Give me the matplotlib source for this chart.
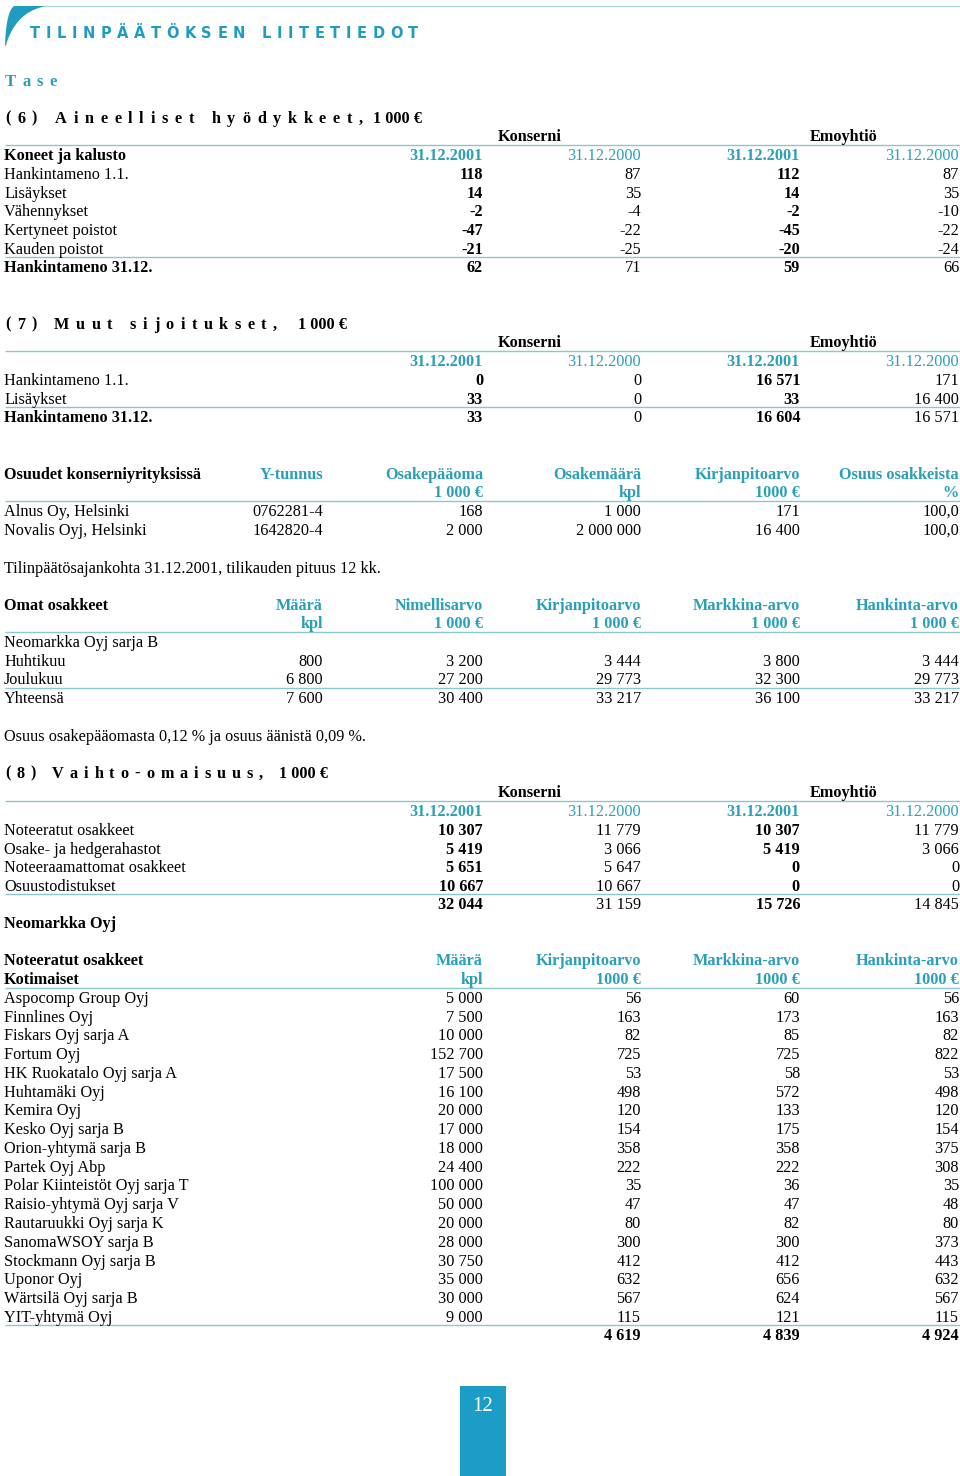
import matplotlib
matplotlib.use('Agg')
import matplotlib.pyplot as plt
from matplotlib.patches import Rectangle, Polygon
import numpy as np

# ---------------- data ----------------
sec6_rows = ["Hankintameno 1.1.", "Lisäykset", "Vähennykset", "Kertyneet poistot",
             "Kauden poistot", "Hankintameno 31.12."]
sec6_kons_2001 = [118, 14, -2, -47, -21, 62]
sec6_kons_2000 = [87, 35, -4, -22, -25, 71]
sec6_emo_2001 = [112, 14, -2, -45, -20, 59]
sec6_emo_2000 = [87, 35, -10, -22, -24, 66]

sec7_rows = ["Hankintameno 1.1.", "Lisäykset", "Hankintameno 31.12."]
sec7_kons_2001 = [0, 33, 33]
sec7_kons_2000 = [0, 0, 0]
sec7_emo_2001 = [16571, 33, 16604]
sec7_emo_2000 = [171, 16400, 16571]

sub_names = ["Alnus Oy, Helsinki", "Novalis Oyj, Helsinki"]
sub_ytunnus = ["0762281-4", "1642820-4"]
sub_capital = [168, 2000]
sub_shares = [1000, 2000000]
sub_book = [171, 16400]
sub_pct = [100.0, 100.0]

own_rows = ["Huhtikuu", "Joulukuu", "Yhteensä"]
own_qty = [800, 6800, 7600]
own_nominal = [3200, 27200, 30400]
own_book = [3444, 29773, 33217]
own_market = [3800, 32300, 36100]
own_cost = [3444, 29773, 33217]

sec8_rows = ["Noteeratut osakkeet", "Osake- ja hedgerahastot",
             "Noteeraamattomat osakkeet", "Osuustodistukset"]
sec8_kons_2001 = [10307, 5419, 5651, 10667]
sec8_kons_2000 = [11779, 3066, 5647, 10667]
sec8_emo_2001 = [10307, 5419, 0, 0]
sec8_emo_2000 = [11779, 3066, 0, 0]
sec8_totals = [32044, 31159, 15726, 14845]

stocks = ["Aspocomp Group Oyj", "Finnlines Oyj", "Fiskars Oyj sarja A", "Fortum Oyj",
          "HK Ruokatalo Oyj sarja A", "Huhtamäki Oyj", "Kemira Oyj", "Kesko Oyj sarja B",
          "Orion-yhtymä sarja B", "Partek Oyj Abp", "Polar Kiinteistöt Oyj sarja T",
          "Raisio-yhtymä Oyj sarja V", "Rautaruukki Oyj sarja K", "SanomaWSOY sarja B",
          "Stockmann Oyj sarja B", "Uponor Oyj", "Wärtsilä Oyj sarja B", "YIT-yhtymä Oyj"]
stock_qty = [5000, 7500, 10000, 152700, 17500, 16100, 20000, 17000, 18000, 24400,
             100000, 50000, 20000, 28000, 30750, 35000, 30000, 9000]
stock_book = [56, 163, 82, 725, 53, 498, 120, 154, 358, 222, 35, 47, 80, 300, 412, 632, 567, 115]
stock_market = [60, 173, 85, 725, 58, 572, 133, 175, 358, 222, 36, 47, 82, 300, 412, 656, 624, 121]
stock_cost = [56, 163, 82, 822, 53, 498, 120, 154, 375, 308, 35, 48, 80, 373, 443, 632, 567, 115]
stock_totals = [4619, 4839, 4924]

# ---------------- setup ----------------
W, H = 960, 1476
fig = plt.figure(figsize=(9.6, 14.76), dpi=100)
ax = fig.add_axes([0, 0, 1, 1])
ax.set_xlim(0, W)
ax.set_ylim(H, 0)
ax.axis('off')
renderer = fig.canvas.get_renderer()

TEAL = '#2a9fb8'
LINE = '#8cc6d1'
SERIF = ['Liberation Serif', 'DejaVu Serif']
FS = 11.7
C = [483, 641, 800, 959]
LX = 4
DY = 1.8


def fmt(v):
    return f"{v:,}".replace(",", " ")


def txt(x, y, s, ha='left', bold=False, color='black', size=FS, family=SERIF):
    ax.text(x, y + DY, s, ha=ha, va='center', fontsize=size, family=family,
            fontweight='bold' if bold else 'normal', color=color)


def hline(y, x0=5, x1=960):
    ax.plot([x0, x1], [y, y], color=LINE, lw=1.0, solid_capstyle='butt')


def char_w(ch, **kw):
    if ch == ' ':
        a = ax.text(0, 0, 'aa', **kw); b = ax.text(0, 0, 'a a', **kw)
        w = b.get_window_extent(renderer).width - a.get_window_extent(renderer).width
        a.remove(); b.remove()
        return w
    t = ax.text(0, 0, ch, **kw)
    w = t.get_window_extent(renderer).width
    t.remove()
    return w


def tracked(x0, x1, y, s, **kw):
    ws = [char_w(ch, **kw) for ch in s]
    gap = (x1 - x0 - sum(ws)) / (len(s) - 1)
    x = x0
    for ch, w in zip(s, ws):
        if ch != ' ':
            ax.text(x, y + DY, ch, ha='left', va='center', **kw)
        x += w + gap


# ---------------- decoration ----------------
def bez(p0, p1, p2, n=30):
    t = np.linspace(0, 1, n)[:, None]
    return (1 - t) ** 2 * np.array(p0) + 2 * (1 - t) * t * np.array(p1) + t ** 2 * np.array(p2)

inner = bez((47, 6), (16, 11), (6, 45))
outer = bez((5, 46), (6, 12), (14, 6))
pts = np.vstack([inner, outer, [[47, 6]]])
ax.add_patch(Polygon(pts, closed=True, color='#1f9cc0', lw=0))
ax.plot([44, 960], [6, 6], color='#a9d6df', lw=1.0)

tkw = dict(fontsize=10.5, family=['DejaVu Sans'], fontweight='bold', color='#1f9cc0')
tracked(30, 418, 32, "TILINPÄÄTÖKSEN LIITETIEDOT", **tkw)
tracked(5, 57, 80, "Tase", fontsize=12, family=SERIF, fontweight='bold', color=TEAL)

hkw = dict(fontsize=11.7, family=SERIF, fontweight='bold', color='black')

# ---------------- section 6 ----------------
tracked(5, 363, 117, "(6) Aineelliset hyödykkeet,", **hkw)
txt(373, 117, "1 000 €", bold=True)
txt(530, 135, "Konserni", ha='center', bold=True)
txt(844, 135, "Emoyhtiö", ha='center', bold=True)
hline(144.5)
txt(LX, 154, "Koneet ja kalusto", bold=True)
dates = [("31.12.2001", True), ("31.12.2000", False), ("31.12.2001", True), ("31.12.2000", False)]
for cx, (d, b) in zip(C, dates):
    txt(cx, 154, d, ha='right', bold=b, color=TEAL)
cols6 = [sec6_kons_2001, sec6_kons_2000, sec6_emo_2001, sec6_emo_2000]
for i, name in enumerate(sec6_rows):
    y = 173 + i * 18.7
    last = i == len(sec6_rows) - 1
    txt(LX, y, name, bold=last)
    for j, col in enumerate(cols6):
        txt(C[j], y, fmt(col[i]), ha='right', bold=(j % 2 == 0))
hline(257)

# ---------------- section 7 ----------------
tracked(5, 277, 323, "(7) Muut sijoitukset,", **hkw)
txt(298, 323, "1 000 €", bold=True)
txt(530, 341, "Konserni", ha='center', bold=True)
txt(844, 341, "Emoyhtiö", ha='center', bold=True)
hline(350.5)
for cx, (d, b) in zip(C, dates):
    txt(cx, 360, d, ha='right', bold=b, color=TEAL)
cols7 = [sec7_kons_2001, sec7_kons_2000, sec7_emo_2001, sec7_emo_2000]
for i, name in enumerate(sec7_rows):
    y = 379 + i * 18.7
    last = i == len(sec7_rows) - 1
    txt(LX, y, name, bold=last)
    for j, col in enumerate(cols7):
        txt(C[j], y, fmt(col[i]), ha='right', bold=(j % 2 == 0))
hline(407)

# ---------------- subsidiaries ----------------
txt(LX, 473, "Osuudet konserniyrityksissä", bold=True)
for cx, h1, h2 in zip([323] + C, ["Y-tunnus", "Osakepääoma", "Osakemäärä", "Kirjanpitoarvo", "Osuus osakkeista"],
                      ["", "1 000 €", "kpl", "1000 €", "%"]):
    txt(cx, 473, h1, ha='right', bold=True, color=TEAL)
    if h2:
        txt(cx, 491, h2, ha='right', bold=True, color=TEAL)
hline(500.5)
for i, name in enumerate(sub_names):
    y = 510 + i * 18.8
    txt(LX, y, name)
    txt(323, y, sub_ytunnus[i], ha='right')
    txt(C[0], y, fmt(sub_capital[i]), ha='right')
    txt(C[1], y, fmt(sub_shares[i]), ha='right')
    txt(C[2], y, fmt(sub_book[i]), ha='right')
    txt(C[3], y, f"{sub_pct[i]:.1f}".replace('.', ','), ha='right')

txt(LX, 567, "Tilinpäätösajankohta 31.12.2001, tilikauden pituus 12 kk.")

# ---------------- own shares ----------------
txt(LX, 604, "Omat osakkeet", bold=True)
for cx, h1 in zip([323] + C, ["Määrä", "Nimellisarvo", "Kirjanpitoarvo", "Markkina-arvo", "Hankinta-arvo"]):
    txt(cx, 604, h1, ha='right', bold=True, color=TEAL)
for cx, h2 in zip([323] + C, ["kpl", "1 000 €", "1 000 €", "1 000 €", "1 000 €"]):
    txt(cx, 622, h2, ha='right', bold=True, color=TEAL)
hline(631.5)
txt(LX, 641, "Neomarkka Oyj sarja B")
for i, name in enumerate(own_rows):
    y = 660 + i * 18.7
    txt(LX, y, name)
    for cx, col in zip([323] + C, [own_qty, own_nominal, own_book, own_market, own_cost]):
        txt(cx, y, fmt(col[i]), ha='right')
hline(688)

txt(LX, 735, "Osuus osakepääomasta 0,12 % ja osuus äänistä 0,09 %.")

# ---------------- section 8 ----------------
tracked(5, 263, 772, "(8) Vaihto-omaisuus,", **hkw)
txt(279, 772, "1 000 €", bold=True)
txt(530, 791, "Konserni", ha='center', bold=True)
txt(844, 791, "Emoyhtiö", ha='center', bold=True)
hline(800.5)
for cx, (d, b) in zip(C, dates):
    txt(cx, 810, d, ha='right', bold=b, color=TEAL)
cols8 = [sec8_kons_2001, sec8_kons_2000, sec8_emo_2001, sec8_emo_2000]
for i, name in enumerate(sec8_rows):
    y = 829 + i * 18.7
    txt(LX, y, name)
    for j, col in enumerate(cols8):
        txt(C[j], y, fmt(col[i]), ha='right', bold=(j % 2 == 0))
hline(894)
for j, v in enumerate(sec8_totals):
    txt(C[j], 903.5, fmt(v), ha='right', bold=(j % 2 == 0))
txt(LX, 922, "Neomarkka Oyj", bold=True)

# ---------------- listed shares ----------------
txt(LX, 959, "Noteeratut osakkeet", bold=True)
txt(LX, 978, "Kotimaiset", bold=True)
for cx, h1, h2 in zip(C, ["Määrä", "Kirjanpitoarvo", "Markkina-arvo", "Hankinta-arvo"],
                      ["kpl", "1000 €", "1000 €", "1000 €"]):
    txt(cx, 959, h1, ha='right', bold=True, color=TEAL)
    txt(cx, 978, h2, ha='right', bold=True, color=TEAL)
hline(987.5)
for i, name in enumerate(stocks):
    y = 997 + i * 18.77
    txt(LX, y, name)
    for cx, col in zip(C, [stock_qty, stock_book, stock_market, stock_cost]):
        txt(cx, y, fmt(col[i]), ha='right')
hline(1325)
for cx, v in zip(C[1:], stock_totals):
    txt(cx, 1334, fmt(v), ha='right', bold=True)

# ---------------- page number ----------------
ax.add_patch(Rectangle((460, 1386), 46, 90, color='#1b9dc5', lw=0))
txt(483, 1405, "12", ha='center', color='white', size=15)

fig.savefig('out.png', dpi=100, facecolor='white')
